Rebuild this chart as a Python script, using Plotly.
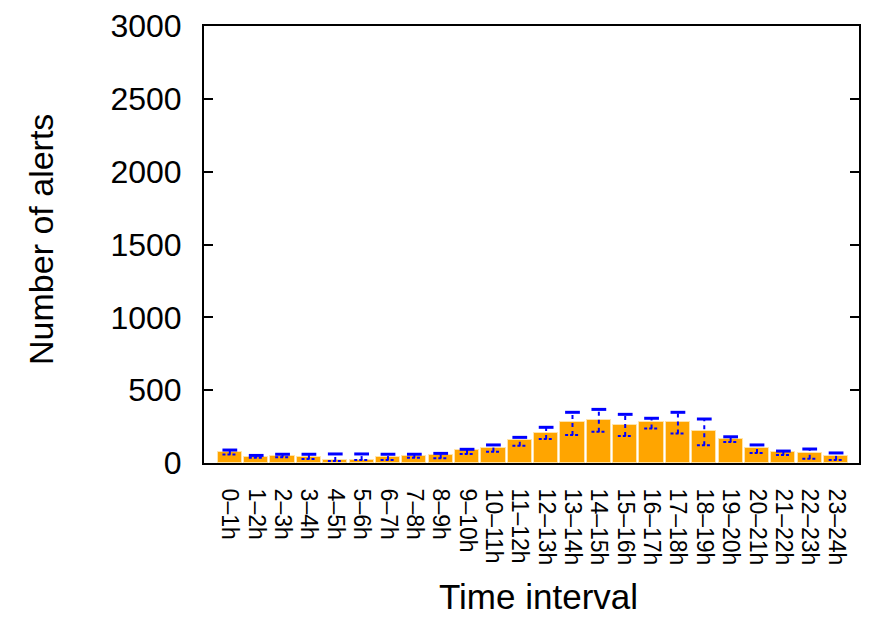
import plotly.graph_objects as go

# Hourly time intervals
intervals = ["0–1h", "1–2h", "2–3h", "3–4h", "4–5h", "5–6h", "6–7h", "7–8h",
             "8–9h", "9–10h", "10–11h", "11–12h", "12–13h", "13–14h", "14–15h",
             "15–16h", "16–17h", "17–18h", "18–19h", "19–20h", "20–21h",
             "21–22h", "22–23h", "23–24h"]

# Mean number of alerts per interval
alerts = [77, 41, 50, 41, 23, 23, 41, 50, 55, 87, 103, 156, 208, 279, 295,
          261, 279, 279, 217, 165, 103, 77, 69, 50]

# Upper and lower ends of the error bars
err_high = [89, 52, 60, 60, 62, 62, 60, 60, 66, 94, 124, 176, 245, 348, 368,
            334, 307, 348, 302, 180, 124, 82, 96, 69]
err_low = [58, 36, 40, 27, 14, 20, 20, 36, 32, 62, 78, 119, 165, 192, 215,
           185, 236, 203, 121, 144, 69, 55, 30, 21]

y_ticks = [0, 500, 1000, 1500, 2000, 2500, 3000]

FONT = "Liberation Sans, Arial, Helvetica, sans-serif"
BLUE = "#0000ff"
CAP = 0.28

xs = list(range(len(intervals)))

fig = go.Figure()

fig.add_trace(go.Bar(
    x=xs, y=alerts, width=0.92,
    marker=dict(color="#ffa500", line=dict(color="#ffe3a8", width=1)),
    showlegend=False,
))

# Dashed vertical whiskers
vx, vy = [], []
for x, lo, hi in zip(xs, err_low, err_high):
    vx += [x, x, None]
    vy += [lo, hi, None]
fig.add_trace(go.Scatter(x=vx, y=vy, mode="lines",
                         line=dict(color=BLUE, width=2, dash="4px,4px"),
                         showlegend=False, hoverinfo="skip"))

# Solid top caps
tx, ty = [], []
for x, hi in zip(xs, err_high):
    tx += [x - CAP, x + CAP, None]
    ty += [hi, hi, None]
fig.add_trace(go.Scatter(x=tx, y=ty, mode="lines",
                         line=dict(color=BLUE, width=3),
                         showlegend=False, hoverinfo="skip"))

# Dashed bottom caps
bx, by = [], []
for x, lo in zip(xs, err_low):
    bx += [x - CAP, x + CAP, None]
    by += [lo, lo, None]
fig.add_trace(go.Scatter(x=bx, y=by, mode="lines",
                         line=dict(color=BLUE, width=2, dash="3px,2px"),
                         showlegend=False, hoverinfo="skip"))

fig.update_layout(
    width=869, height=618,
    margin=dict(l=204, r=8, t=25, b=155, pad=0),
    paper_bgcolor="white", plot_bgcolor="white",
    font=dict(family=FONT, color="black"),
    bargap=0,
    xaxis=dict(
        range=[-0.98, 23.87],
        tickmode="array", tickvals=xs, ticktext=intervals,
        tickangle=90, tickfont=dict(size=23, family=FONT),
        ticks="", ticklabelstandoff=19,
        showline=True, linecolor="black", linewidth=2, mirror=True,
        showgrid=False, zeroline=False,
    ),
    yaxis=dict(
        range=[0, 3000],
        tickmode="array", tickvals=y_ticks,
        tickfont=dict(size=32, family=FONT),
        ticks="inside", ticklen=9, tickwidth=1.5, tickcolor="black",
        ticklabelstandoff=14,
        showline=True, linecolor="black", linewidth=2, mirror="ticks",
        showgrid=False, zeroline=False,
    ),
    annotations=[
        dict(text="Time interval", xref="paper", yref="paper",
             x=0.51, y=-0.352, xanchor="center", yanchor="bottom",
             borderpad=0, showarrow=False, font=dict(size=35, family=FONT)),
        dict(text="Number of alerts", xref="paper", yref="paper",
             x=-0.25, y=0.511, xanchor="center", yanchor="middle",
             borderpad=0, textangle=-90, showarrow=False,
             font=dict(size=34, family=FONT)),
    ],
)

fig.write_html("out.html")
